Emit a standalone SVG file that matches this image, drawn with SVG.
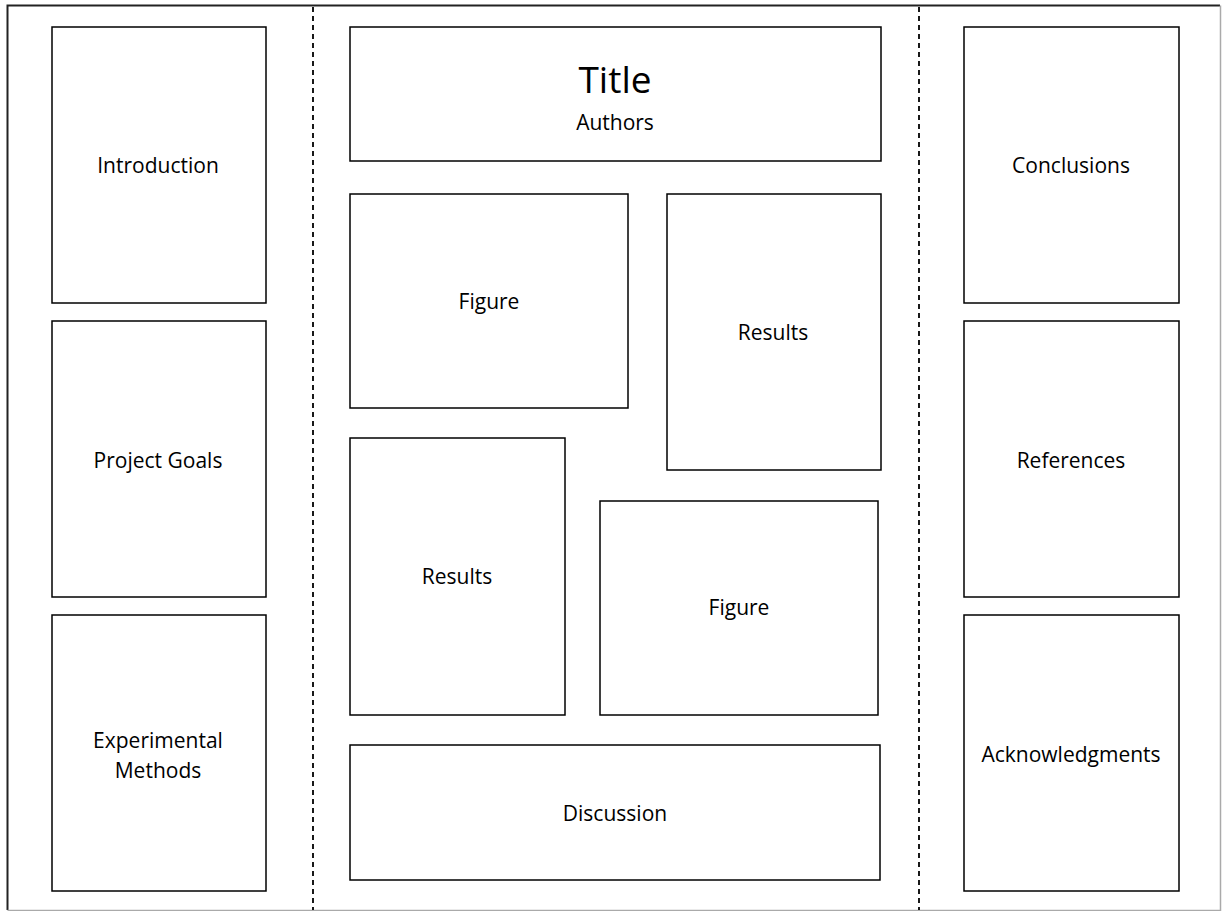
<svg xmlns="http://www.w3.org/2000/svg" width="1224" height="911" viewBox="0 0 1224 911">
<style>
.box{fill:#fff;stroke:#000;stroke-width:1.5}
.t{font-family:"Open Sans","Liberation Sans",sans-serif;font-size:21px;fill:#000;text-anchor:middle;dominant-baseline:central}
.big{font-size:37px}
.dash{stroke:#000;stroke-width:1.8;stroke-dasharray:5 4;fill:none}
</style>
<rect width="1224" height="911" fill="#fff"/>
<path d="M7.5 910 V5.5 H1220" fill="none" stroke="#222" stroke-width="2"/>
<path d="M1220.5 5.5 V910.5 H7.5" fill="none" stroke="#aaa" stroke-width="1.5"/>
<g id="dividers">
<line class="dash" x1="313" y1="7" x2="313" y2="910"/>
<line class="dash" x1="919" y1="7" x2="919" y2="910"/>
</g>
<g id="introduction"><rect class="box" x="52" y="27" width="214" height="276"/><text class="t" x="158" y="165">Introduction</text></g>
<g id="project-goals"><rect class="box" x="52" y="321" width="214" height="276"/><text class="t" x="158" y="460">Project Goals</text></g>
<g id="experimental-methods"><rect class="box" x="52" y="615" width="214" height="276"/><text class="t" x="158" y="740">Experimental</text><text class="t" x="158" y="770">Methods</text></g>
<g id="conclusions"><rect class="box" x="964" y="27" width="215" height="276"/><text class="t" x="1071" y="165">Conclusions</text></g>
<g id="references"><rect class="box" x="964" y="321" width="215" height="276"/><text class="t" x="1071" y="460">References</text></g>
<g id="acknowledgments"><rect class="box" x="964" y="615" width="215" height="276"/><text class="t" x="1071" y="754">Acknowledgments</text></g>
<g id="title"><rect class="box" x="350" y="27" width="531" height="134"/><text class="t big" x="615" y="78">Title</text><text class="t" x="615" y="122">Authors</text></g>
<g id="figure-1"><rect class="box" x="350" y="194" width="278" height="214"/><text class="t" x="489" y="301">Figure</text></g>
<g id="results-1"><rect class="box" x="667" y="194" width="214" height="276"/><text class="t" x="773" y="332">Results</text></g>
<g id="results-2"><rect class="box" x="350" y="438" width="215" height="277"/><text class="t" x="457" y="576">Results</text></g>
<g id="figure-2"><rect class="box" x="600" y="501" width="278" height="214"/><text class="t" x="739" y="607">Figure</text></g>
<g id="discussion"><rect class="box" x="350" y="745" width="530" height="135"/><text class="t" x="615" y="813">Discussion</text></g>
<g id="connectors"></g>
</svg>
